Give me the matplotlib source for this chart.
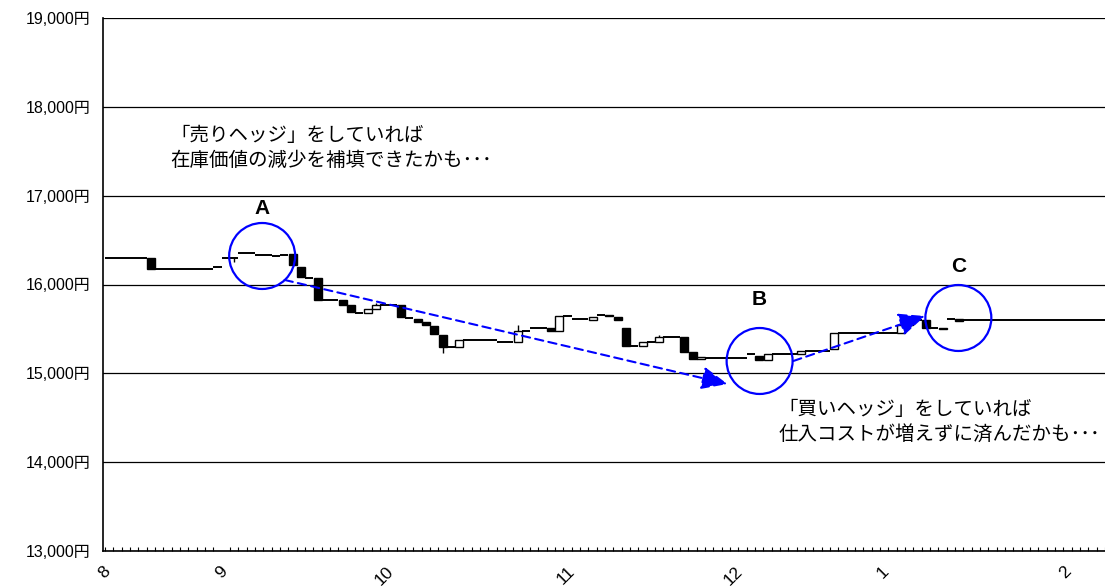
import numpy as np
import matplotlib
matplotlib.use('Agg')
import matplotlib.pyplot as plt

plt.rcParams['font.family'] = ['Noto Sans CJK JP', 'DejaVu Sans']

# one candle per trading day, prices in yen
opens = [
    16300, 16300, 16300, 16300, 16300, 16300, 16180, 16180, 16180, 16180,
    16180, 16180, 16180, 16195, 16295, 16295, 16350, 16350, 16335, 16335,
    16325, 16330, 16340, 16200, 16070, 16070, 15830, 15830, 15830, 15770,
    15680, 15680, 15720, 15770, 15770, 15770, 15620, 15615, 15575, 15530,
    15435, 15295, 15295, 15375, 15375, 15375, 15375, 15355, 15355, 15355,
    15480, 15505, 15505, 15505, 15480, 15645, 15610, 15610, 15595, 15655,
    15655, 15630, 15505, 15310, 15310, 15350, 15350, 15410, 15410, 15410,
    15245, 15160, 15170, 15170, 15170, 15170, 15170, 15215, 15200, 15145,
    15215, 15215, 15215, 15215, 15255, 15255, 15255, 15270, 15450, 15450,
    15450, 15450, 15450, 15450, 15450, 15450, 15545, 15600, 15600, 15505,
    15500, 15610, 15610, 15605, 15605, 15605, 15605, 15605, 15605, 15605,
    15605, 15605, 15605, 15605, 15605, 15605, 15605, 15605, 15605, 15605,
]
closes = [
    16300, 16300, 16300, 16300, 16300, 16180, 16180, 16180, 16180, 16180,
    16180, 16180, 16180, 16195, 16295, 16295, 16350, 16350, 16335, 16335,
    16325, 16330, 16220, 16080, 16070, 15830, 15830, 15830, 15770, 15685,
    15680, 15720, 15770, 15770, 15770, 15630, 15620, 15575, 15545, 15440,
    15295, 15295, 15375, 15375, 15375, 15375, 15375, 15355, 15355, 15480,
    15480, 15505, 15505, 15480, 15645, 15645, 15610, 15610, 15635, 15655,
    15640, 15600, 15310, 15310, 15350, 15350, 15410, 15410, 15410, 15245,
    15160, 15180, 15170, 15170, 15170, 15170, 15170, 15215, 15145, 15215,
    15215, 15215, 15215, 15255, 15255, 15255, 15255, 15450, 15450, 15450,
    15450, 15450, 15450, 15450, 15450, 15545, 15600, 15600, 15505, 15505,
    15515, 15610, 15590, 15605, 15605, 15605, 15605, 15605, 15605, 15605,
    15605, 15605, 15605, 15605, 15605, 15605, 15605, 15605, 15605, 15605,
]
# days with visible shadows
wick_days = [15, 32, 40, 49, 66]
wick_highs = [16295, 15795, 15435, 15545, 15435]
wick_lows = [16257, 15720, 15225, 15355, 15350]

month_labels = ['8', '9', '10', '11', '12', '1', '2']
month_pos = [-0.6, 13.5, 33.0, 54.8, 74.9, 92.9, 114.8]

y_ticks = [13000, 14000, 15000, 16000, 17000, 18000, 19000]

# circled points A, B, C
mark_labels = ['A', 'B', 'C']
mark_x = [18.35, 78.05, 101.9]
mark_y = [16321, 15139, 15623]
label_y = [16861, 15826, 16208]

# hedge arrows (start -> end)
arrow_sell = [(21.05, 16051), (74.2, 14880)]
arrow_buy = [(82.1, 15139), (97.9, 15645)]

note_sell = '「売りヘッジ」をしていれば\n在庫価値の減少を補填できたかも･･･'
note_buy = '「買いヘッジ」をしていれば\n仕入コストが増えずに済んだかも･･･'


fig = plt.figure(figsize=(11.05, 5.86), dpi=100)
ax = fig.add_axes([103 / 1105, 35 / 586, 1002 / 1105, 533 / 586])

o = np.array(opens, dtype=float)
c = np.array(closes, dtype=float)
n = len(o)
x = np.arange(n)

ax.vlines(wick_days, wick_lows, wick_highs, color='black', lw=1, zorder=2)

down = c < o
up = c > o
flat = c == o
ax.bar(x[down], (c - o)[down], bottom=o[down], width=0.96,
       color='black', edgecolor='black', lw=1, zorder=3)
ax.bar(x[up], (c - o)[up], bottom=o[up], width=0.96,
       color='white', edgecolor='black', lw=1, zorder=3)
ax.hlines(o[flat], x[flat] - 0.5, x[flat] + 0.5, color='black', lw=1.4, zorder=3)

ax.set_xlim(-0.75, n - 0.75)
ax.set_ylim(13000, 19000)
ax.set_yticks(y_ticks)
ax.set_yticklabels([f'{v:,}円' for v in y_ticks], fontsize=11.5,
                   family=['Liberation Sans', 'Noto Sans CJK JP'])
ax.yaxis.grid(True, color='black', lw=0.9)
ax.set_axisbelow(True)
ax.tick_params(axis='y', length=0, pad=9)

ax.set_xticks(month_pos)
ax.set_xticklabels(month_labels, rotation=45, fontsize=12.5,
                   family=['Liberation Sans'])
ax.set_xticks(np.arange(n + 1) - 0.5, minor=True)
ax.tick_params(axis='x', which='major', length=0, pad=9)
ax.tick_params(axis='x', which='minor', direction='in', length=3, width=0.8)

for side in ['top', 'right']:
    ax.spines[side].set_visible(False)
for side in ['left', 'bottom']:
    ax.spines[side].set_linewidth(1.2)

ax.scatter(mark_x, mark_y, s=2256, facecolors='none', edgecolors='blue',
           linewidths=1.6, zorder=5)
for lab, mx, ly in zip(mark_labels, mark_x, label_y):
    ax.text(mx, ly, lab, ha='center', va='center', fontsize=15,
            fontweight='bold', family=['Liberation Sans'], zorder=6)

for start, end in [arrow_sell, arrow_buy]:
    ax.annotate('', xy=end, xytext=start,
                arrowprops=dict(arrowstyle='-|>,head_length=0.8,head_width=0.35',
                                color='blue', lw=1.5, linestyle=(0, (4, 2.5)),
                                mutation_scale=20, shrinkA=0, shrinkB=0),
                zorder=4)

ax.text(7.3, 17542, note_sell, ha='left', va='center', fontsize=14,
        linespacing=1.25)
ax.text(80.3, 14452, note_buy, ha='left', va='center', fontsize=14,
        linespacing=1.25)

fig.savefig('out.png', dpi=100)
